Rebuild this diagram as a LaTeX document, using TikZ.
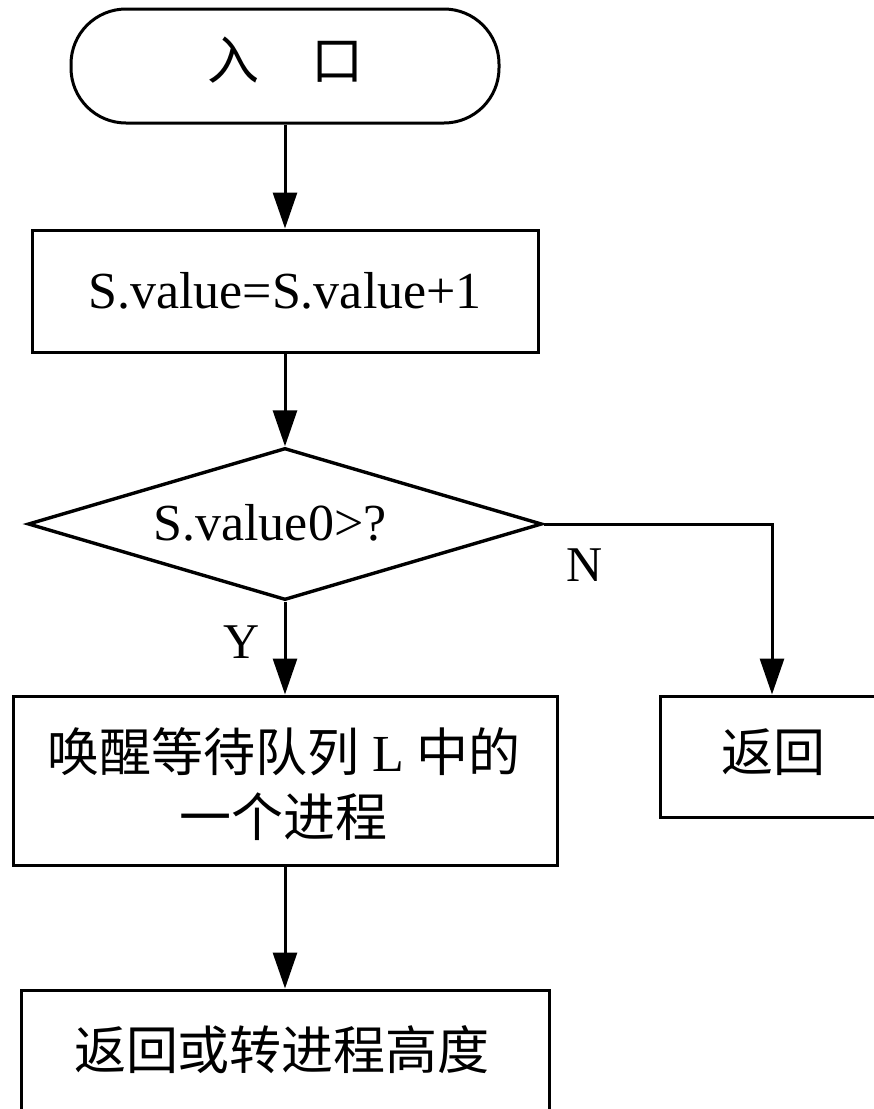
\documentclass[tikz,border=0pt]{standalone}
\usepackage{fontspec}
\setmainfont{Liberation Serif}
\newfontfamily\cjk{Noto Sans CJK SC}
\usetikzlibrary{arrows.meta,shapes.geometric}
\begin{document}
\begin{tikzpicture}[x=1pt,y=-1pt,
  line width=3pt,
  box/.style={draw,rectangle,inner sep=0pt,line width=3pt},
  txt/.style={inner sep=0pt,font=\fontsize{52}{65}\selectfont},
  lbl/.style={inner sep=0pt,font=\fontsize{50}{60}\selectfont},
  arr/.style={-{Triangle[length=36pt,width=24pt]}}]
\useasboundingbox (0,0) rectangle (874,1109);
\clip (0,0) rectangle (874,1109);

\node[draw,rounded corners=55pt,minimum width=428pt,minimum height=114pt,inner sep=0pt] (start) at (285,66) {};
\node[txt] (starttxt) at (285,60) {\cjk 入　口};

\node[box,minimum width=506pt,minimum height=122pt] (inc) at (285,291) {};
\node[txt] (inctxt) at (285,291) {S.value=S.value+1};

\node[draw,diamond,line width=3.4pt,minimum width=514pt,minimum height=152pt,inner sep=0pt,shape aspect=3.38] (dec) at (285,524) {};
\node[txt] (dectxt) at (270,523) {S.value0>?};

\node[box,minimum width=544pt,minimum height=169pt] (wake) at (285,780.5) {};
\node[txt,align=center] (waketxt) at (284,784) {{\cjk 唤醒等待队列} L {\cjk 中的}\\{\cjk 一个进程}};

\node[box,minimum width=224pt,minimum height=121pt] (ret) at (772,756.5) {};
\node[txt] (rettxt) at (773,752) {\cjk 返回};

\node[box,minimum width=528pt,minimum height=170pt] (sched) at (285,1075) {};
\node[txt] (schedtxt) at (282,1050) {\cjk 返回或转进程高度};

\node[lbl] (ylab) at (242,642) {Y};
\node[lbl] (nlab) at (585,565) {N};

\draw[arr] (start.south) -- (inc.north);
\draw[arr] (inc.south) -- (dec.north);
\draw[arr] (dec.south) -- (wake.north);
\draw[arr] (dec.east) -| (ret.north);
\draw[arr] (wake.south) -- (sched.north);
\end{tikzpicture}
\end{document}
